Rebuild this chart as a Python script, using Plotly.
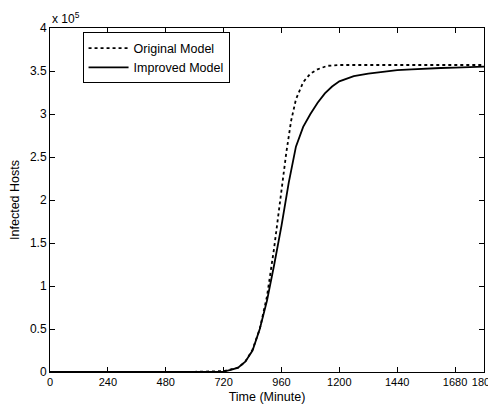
import plotly.graph_objects as go

# Data (infected hosts in units of 1e5)
t_orig = [0, 240, 480, 600, 720, 780, 810, 840, 870, 900, 930, 960, 980, 1000,
          1020, 1050, 1080, 1110, 1150, 1200, 1400, 1600, 1800]
orig = [0.0, 0.0, 0.0, 0.002, 0.01, 0.05, 0.12, 0.26, 0.5, 0.88, 1.45, 2.15, 2.55,
        2.92, 3.17, 3.37, 3.47, 3.52, 3.56, 3.57, 3.57, 3.57, 3.57]

t_impr = [0, 240, 480, 600, 720, 750, 780, 810, 840, 870, 900, 930, 960, 990,
          1020, 1050, 1080, 1110, 1140, 1170, 1200, 1260, 1320, 1380, 1440,
          1500, 1560, 1620, 1680, 1740, 1800]
impr = [0.0, 0.0, 0.0, 0.002, 0.005, 0.025, 0.05, 0.12, 0.25, 0.5, 0.83, 1.25,
        1.7, 2.2, 2.62, 2.85, 3.0, 3.13, 3.24, 3.32, 3.38, 3.44, 3.47, 3.49,
        3.51, 3.52, 3.53, 3.535, 3.54, 3.545, 3.55]

x_ticks = [0, 240, 480, 720, 960, 1200, 1440, 1680, 1800]
y_ticks = [0, 0.5, 1, 1.5, 2, 2.5, 3, 3.5, 4]
y_tick_labels = ["0", "0.5", "1", "1.5", "2", "2.5", "3", "3.5", "4"]

fam = "Liberation Sans, Arial, sans-serif"
xtick_font = dict(family=fam, size=11, color="black")
ytick_font = dict(family=fam, size=12, color="black")
title_font = dict(family=fam, size=12.5, color="black")

fig = go.Figure()
fig.add_trace(go.Scatter(x=t_orig, y=orig, mode="lines", name="Original Model",
                         line=dict(color="black", width=1.8, dash="dot")))
fig.add_trace(go.Scatter(x=t_impr, y=impr, mode="lines", name="Improved Model",
                         line=dict(color="black", width=1.8)))

axis_common = dict(showline=True, linecolor="black", linewidth=1, mirror="allticks",
                   ticks="inside", ticklen=5, tickcolor="black", showgrid=False,
                   zeroline=False, automargin=False, ticklabeloverflow="allow")

# page body has an 8px margin; size the figure so it fills the 496x413 window
fig.update_layout(
    width=488, height=405,
    margin=dict(l=42, r=12, t=20, b=41),
    paper_bgcolor="white", plot_bgcolor="white",
    font=ytick_font,
    showlegend=True,
    legend=dict(x=0.075, y=0.987, xanchor="left", yanchor="top",
                bordercolor="black", borderwidth=1, bgcolor="white",
                font=dict(family=fam, size=12.5, color="black"),
                tracegroupgap=0, itemwidth=40),
    xaxis=dict(range=[0, 1800], tickvals=x_ticks, tickangle=0, tickfont=xtick_font,
               title=dict(text="Time (Minute)", standoff=5, font=title_font), **axis_common),
    yaxis=dict(range=[0, 4], tickvals=y_ticks, ticktext=y_tick_labels, tickfont=ytick_font,
               title=dict(text="Infected Hosts", standoff=9, font=title_font), **axis_common),
)
fig.add_annotation(text="x 10<sup>5</sup>", xref="paper", yref="paper", x=0, y=1.0,
                   xanchor="left", yanchor="bottom", showarrow=False, font=ytick_font,
                   yshift=0)

fig.write_html("out.html")
